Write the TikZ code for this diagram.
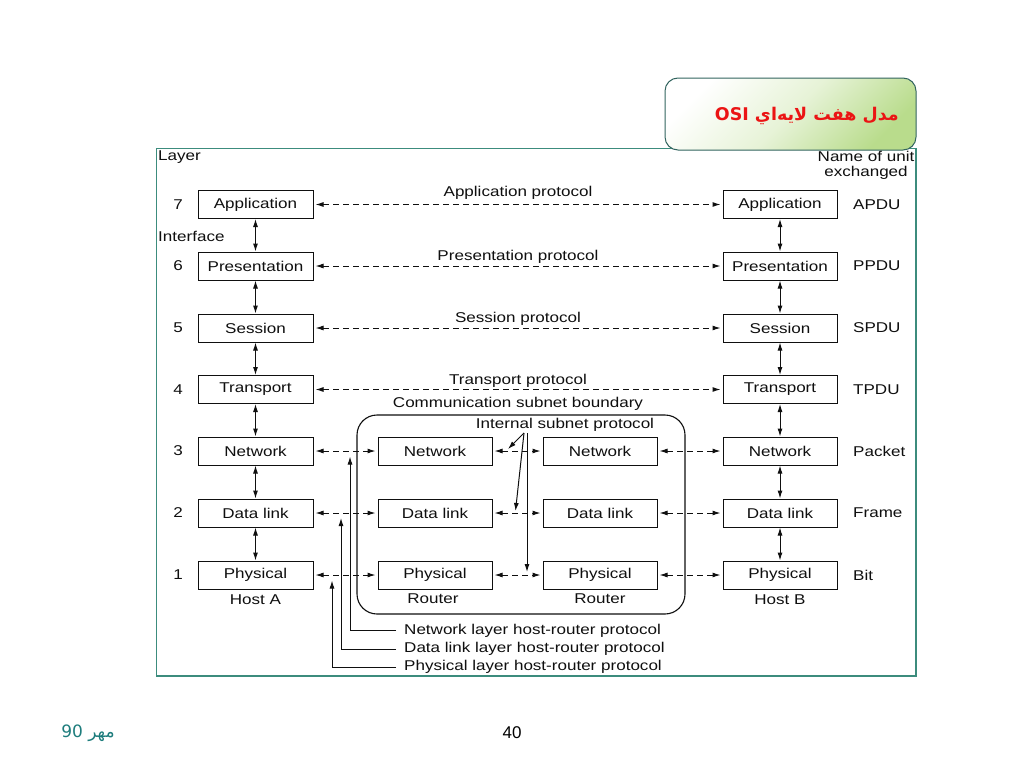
\documentclass[tikz,border=0pt]{standalone}
\usepackage{fontspec}
\setmainfont{Liberation Sans}[FakeStretch=1.2]
\newfontfamily\arabicfont[Script=Arabic]{DejaVu Sans}
\newfontfamily\plainsans{Liberation Sans}
\TeXXeTstate=1
\usetikzlibrary{arrows.meta,calc}
\definecolor{frameteal}{RGB}{60,140,125}
\definecolor{titleborder}{RGB}{50,100,95}
\definecolor{titlegreen}{RGB}{185,220,140}
\definecolor{titlered}{RGB}{235,20,20}
\definecolor{footteal}{RGB}{30,125,125}
\definecolor{ink}{RGB}{15,15,15}
\begin{document}
\begin{tikzpicture}[x=1pt,y=-1pt,
  txt/.style={inner sep=0pt, text=ink, font=\fontsize{14.2}{16}\selectfont},
  layerbox/.style={draw=ink, line width=1pt, minimum width=115pt, minimum height=28pt, inner sep=0pt, text=ink, font=\fontsize{14.2}{16}\selectfont},
  tip/.tip={Latex[length=8pt,width=5pt]},
  peer/.style={draw=ink, line width=1pt, dash pattern=on 6pt off 4pt, tip-tip, shorten <=2pt, shorten >=2pt},
  iface/.style={draw=ink, line width=1pt, tip-tip},
  pointer/.style={draw=ink, line width=1pt, -tip}
]
\useasboundingbox (0,0) rectangle (1024,768);
\fill[white] (0,0) rectangle (1024,768);

% outer frame
\draw[frameteal, line width=1.2pt] (156.5,148.5) rectangle (916,676);

% title box
\path[draw=titleborder, line width=1pt, rounded corners=13pt,
  top color=white, bottom color=titlegreen, middle color=white!65!titlegreen, shading angle=45]
  (665,78) rectangle (916,150);
\node[anchor=east, inner sep=0pt, text=titlered] (title) at (899,116)
  {\arabicfont\bfseries\fontsize{17.5}{20}\selectfont\beginR مدل هفت لايه‌اي \beginL OSI\endL\endR};

% headings
\node[txt, anchor=west] (layerhd) at (158,157) {Layer};
\node[txt, align=center] (unithd) at (866,165) {Name of unit\\[-1pt]exchanged};
\node[txt, anchor=west] (ifacehd) at (158,236) {Interface};

% subnet boundary
\node[draw=ink, line width=1.1pt, rounded corners=20pt, minimum width=328pt, minimum height=199pt, inner sep=0pt] (subnet) at (521,514.5) {};

% layer rows
\foreach \n/\y/\name/\unit in {7/204.5/Application/APDU, 6/266/Presentation/PPDU, 5/328/Session/SPDU, 4/389.5/Transport/TPDU, 3/451/Network/Packet, 2/513/Data link/Frame, 1/575/Physical/Bit}{
  \node[txt] (num\n) at (178,\y) {\n};
  \node[layerbox] (L\n) at (255.5,\y) {\name};
  \node[layerbox, minimum width=114pt] (R\n) at (780,\y) {\name};
  \node[txt, anchor=west] (unit\n) at (853,\y) {\unit};
}
\foreach \n/\y/\name in {3/451/Network, 2/513/Data link, 1/575/Physical}{
  \node[layerbox, minimum width=114pt] (A\n) at (435,\y) {\name};
  \node[layerbox, minimum width=114pt] (B\n) at (600,\y) {\name};
}

% interfaces
\foreach \a/\b in {7/6,6/5,5/4,4/3,3/2,2/1}{
  \draw[iface] (L\a.south) -- (L\b.north);
  \draw[iface] (R\a.south) -- (R\b.north);
}

% peer protocols
\foreach \n in {7,6,5,4}{ \draw[peer] (L\n.east) -- (R\n.west); }
\foreach \n in {3,2,1}{
  \draw[peer] (L\n.east) -- (A\n.west);
  \draw[peer] (A\n.east) -- (B\n.west);
  \draw[peer] (B\n.east) -- (R\n.west);
}

% protocol labels
\node[txt] (p7) at (518,193) {Application protocol};
\node[txt] (p6) at (518,257) {Presentation protocol};
\node[txt] (p5) at (518,319) {Session protocol};
\node[txt] (p4) at (518,381) {Transport protocol};
\node[txt] (csb) at (518,403.5) {Communication subnet boundary};
\node[txt] (isp) at (565,425) {Internal subnet protocol};

% host / router labels
\node[txt] (hostA) at (255.5,599.5) {Host A};
\node[txt] (rtA) at (433,598.5) {Router};
\node[txt] (rtB) at (600,598.5) {Router};
\node[txt] (hostB) at (780,599.5) {Host B};

% internal subnet protocol pointers
\coordinate (ispo) at (524,433);
\coordinate (ispv) at (527,433);
\coordinate (isp3) at (508,449);
\coordinate (isp2) at (515.5,511);
\coordinate (isp1) at (527,572);
\draw[pointer] (ispo) -- (isp3);
\draw[pointer] (ispo) -- (isp2);
\draw[pointer] (ispv) -- (isp1);

% host-router protocol labels
\node[txt, anchor=west] (hr3) at (404,630.5) {Network layer host-router protocol};
\node[txt, anchor=west] (hr2) at (404,649) {Data link layer host-router protocol};
\node[txt, anchor=west] (hr1) at (404,667) {Physical layer host-router protocol};
\coordinate (t3) at (350,456.5);
\coordinate (t2) at (341,518);
\coordinate (t1) at (332,580.5);
\draw[pointer] ([xshift=-8pt]hr3.west) -| (t3);
\draw[pointer] ([xshift=-8pt]hr2.west) -| (t2);
\draw[pointer] ([xshift=-8pt]hr1.west) -| (t1);

% footer
\node[inner sep=0pt, text=footteal] (date) at (88,733)
  {\arabicfont\fontsize{17}{20}\selectfont\beginR مهر \beginL 90\endL\endR};
\node[inner sep=0pt, text=black, font=\plainsans\fontsize{17}{20}\selectfont] (page) at (512,733) {40};
\end{tikzpicture}
\end{document}
